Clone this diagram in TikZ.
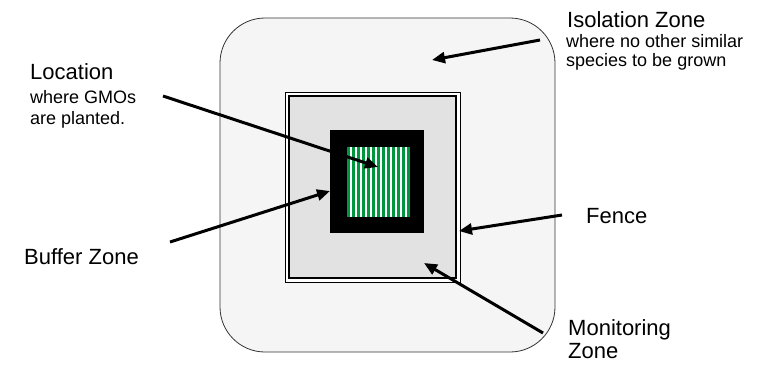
\documentclass[tikz,border=0pt]{standalone}
\usepackage{fontspec}
\setmainfont{Liberation Sans}
\usetikzlibrary{arrows.meta}
\definecolor{gmogreen}{RGB}{0,150,62}
\definecolor{isofill}{RGB}{245,245,245}
\definecolor{monfill}{RGB}{226,226,226}
\begin{document}
\begin{tikzpicture}[x=1pt,y=-1pt,
  pointer/.style={line width=3pt,-{Triangle[length=13pt,width=11pt]}},
  bigtxt/.style={font=\fontsize{22}{24}\selectfont,anchor=base west,inner sep=0pt},
  smalltxt/.style={font=\fontsize{18}{20}\selectfont,anchor=base west,inner sep=0pt,align=left}]
\useasboundingbox (0,0) rectangle (759,365);
% isolation zone
\draw[fill=isofill,draw=black!80,line width=0.8pt,rounded corners=45pt] (220,18) rectangle (555,352);
% fence
\draw[fill=white,draw=black,line width=1pt] (285,92) rectangle (460,282);
\draw[fill=monfill,draw=black,line width=1.2pt] (289,96) rectangle (456,278);
% buffer zone
\fill[black] (330,130) rectangle (424,233);
% location with stripes
\fill[white] (347,147) rectangle (408,217);
\foreach \i in {0,...,12} {
  \fill[gmogreen] ({347+\i*5},147) rectangle ({350+\i*5},217);
}
\fill[gmogreen] (407,147) rectangle (408,217);
% coordinates for pointer tips
\coordinate (isotip) at (432,60);
\coordinate (loctip) at (378,167);
\coordinate (buftip) at (330,191);
\coordinate (fentip) at (459,231);
\coordinate (montip) at (424,263);
\coordinate (isostart) at (540,40);
\coordinate (locstart) at (163,96);
\coordinate (bufstart) at (170,242);
\coordinate (fenstart) at (562,215);
\coordinate (monstart) at (543,333);
% labels
\node[bigtxt] (iso) at (567,27) {Isolation Zone};
\node[smalltxt] (isosub) at (566,47) {where no other similar};
\node[smalltxt] (isosub2) at (566,66) {species to be grown};
\node[bigtxt] (loc) at (30,79) {Location};
\node[smalltxt] (locsub) at (30,103) {where GMOs};
\node[smalltxt] (locsub2) at (30,124) {are planted.};
\node[bigtxt] (buf) at (24,264) {Buffer Zone};
\node[bigtxt] (fen) at (586,223) {Fence};
\node[bigtxt] (mon) at (568,335) {Monitoring};
\node[bigtxt] (mon2) at (568,358) {Zone};
% pointers
\draw[pointer] (isostart) -- (isotip);
\draw[pointer] (locstart) -- (loctip);
\draw[pointer] (bufstart) -- (buftip);
\draw[pointer] (fenstart) -- (fentip);
\draw[pointer] (monstart) -- (montip);
\end{tikzpicture}
\end{document}
